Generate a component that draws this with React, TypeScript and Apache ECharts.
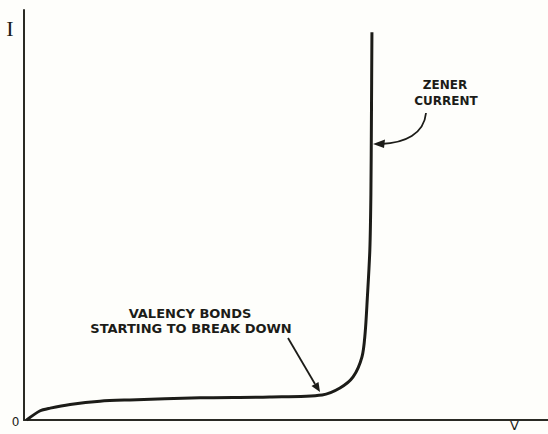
import React, { useEffect, useRef } from "react";
import * as echarts from "echarts";

// Zener diode characteristic (arbitrary units)
const voltage = [0.5, 3.0, 5.0, 8.8, 14.5, 20.2, 33.6, 46.9, 56.9, 60.3, 62.8, 64.5, 65.1, 65.5, 66.0, 66.2, 66.3, 66.4];
const current = [0, 2.2, 2.9, 3.8, 4.6, 4.9, 5.4, 5.6, 6.1, 7.8, 10.5, 15.4, 21.2, 29.3, 41.5, 55.0, 73.0, 94.6];

const yAxisLabel = "I";
const xAxisLabel = "V";
const originLabel = "0";
const zenerLabel = ["ZENER", "CURRENT"];
const valencyLabel = ["VALENCY BONDS", "STARTING TO BREAK DOWN"];

const INK = "#1c1c18";
const LABEL_FONT = "DejaVu Sans";

export default function App() {
  const ref = useRef<HTMLDivElement>(null);

  useEffect(() => {
    if (!ref.current) return;
    const chart = echarts.init(ref.current, undefined, { renderer: "svg" });

    const textStyle = (size: number, family = LABEL_FONT, weight: any = "bold") => ({
      fill: INK,
      fontSize: size,
      fontFamily: family,
      fontWeight: weight,
      align: "center",
      verticalAlign: "middle",
    });

    chart.setOption({
      animation: false,
      backgroundColor: "#fefefb",
      grid: { left: 24, right: 0, top: 10, bottom: 14 },
      xAxis: {
        type: "value",
        min: 0,
        max: 100,
        axisLine: { show: true, lineStyle: { color: "#2a2a24", width: 2 } },
        axisTick: { show: false },
        axisLabel: { show: false },
        splitLine: { show: false },
      },
      yAxis: {
        type: "value",
        min: 0,
        max: 100,
        axisLine: { show: true, lineStyle: { color: "#2a2a24", width: 2 } },
        axisTick: { show: false },
        axisLabel: { show: false },
        splitLine: { show: false },
      },
      series: [
        {
          type: "line",
          data: voltage.map((v, i) => [v, current[i]]),
          showSymbol: false,
          smooth: 0.3,
          lineStyle: { color: INK, width: 3 },
        },
      ],
      graphic: [
        { type: "text", x: 10, y: 28, style: { text: yAxisLabel, ...textStyle(22, "Liberation Serif", "normal") } },
        { type: "text", x: 15.5, y: 421.5, style: { text: originLabel, ...textStyle(12, LABEL_FONT, "normal") } },
        { type: "text", x: 514.5, y: 425.5, style: { text: xAxisLabel, ...textStyle(13, LABEL_FONT, "normal") } },
        { type: "text", x: 445, y: 85, style: { text: zenerLabel[0], ...textStyle(12) } },
        { type: "text", x: 446, y: 101, style: { text: zenerLabel[1], ...textStyle(12) } },
        { type: "text", x: 190, y: 313, style: { text: valencyLabel[0], ...textStyle(13) } },
        { type: "text", x: 191, y: 328, style: { text: valencyLabel[1], ...textStyle(13) } },
        {
          type: "bezierCurve",
          shape: { x1: 426, y1: 113, cpx1: 424, cpy1: 134, cpx2: 405, cpy2: 143, x2: 381, y2: 144 },
          style: { stroke: INK, lineWidth: 1.8, fill: "none" },
        },
        {
          type: "polygon",
          shape: { points: [[373, 144], [385, 139.5], [384, 148]] },
          style: { fill: INK },
        },
        {
          type: "line",
          shape: { x1: 288, y1: 338, x2: 315, y2: 384 },
          style: { stroke: INK, lineWidth: 1.8 },
        },
        {
          type: "polygon",
          shape: { points: [[320, 392], [311.5, 386], [318.5, 382]] },
          style: { fill: INK },
        },
      ],
    });

    return () => chart.dispose();
  }, []);

  return (
    <div
      ref={ref}
      style={{ position: "absolute", left: 0, top: 0, width: 548, height: 434 }}
    />
  );
}
